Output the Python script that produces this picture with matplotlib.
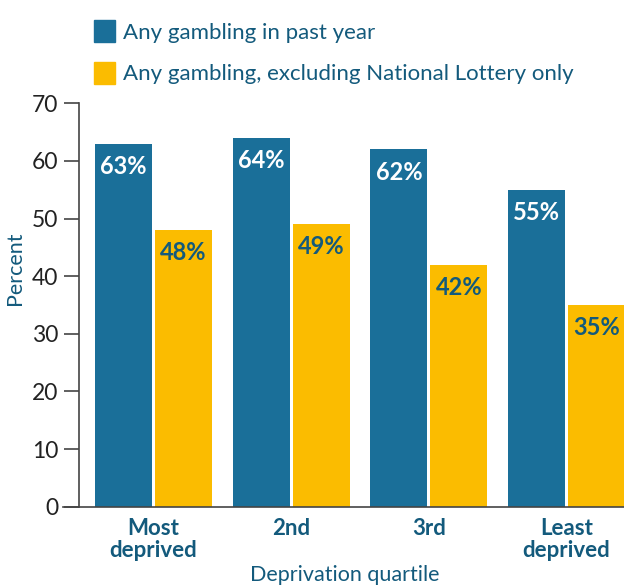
import matplotlib
matplotlib.use("Agg")
import matplotlib.pyplot as plt
import numpy as np
from matplotlib.patches import Patch

categories = ["Most\ndeprived", "2nd", "3rd", "Least\ndeprived"]
any_gambling = [63, 64, 62, 55]
excl_lottery = [48, 49, 42, 35]
series_names = ["Any gambling in past year",
                "Any gambling, excluding National Lottery only"]
yticks = [0, 10, 20, 30, 40, 50, 60, 70]

BLUE = "#1a6f99"
YELLOW = "#fbbc00"
TEAL = "#135a7c"
DARK = "#222222"

plt.rcParams['font.family'] = ['Lato', 'DejaVu Sans']

W, H = 624, 586
fig = plt.figure(figsize=(W / 100, H / 100), dpi=100)
ax = fig.add_axes([79 / W, 1 - 506.7 / H, (W - 79) / W, (506.7 - 103.3) / H])

x = np.arange(len(categories))
bw = 0.414
off = 0.218
b1 = ax.bar(x - off, any_gambling, bw, color=BLUE, zorder=2)
b2 = ax.bar(x + off, excl_lottery, bw, color=YELLOW, zorder=2)

for rect, v in zip(b1, any_gambling):
    ax.annotate(f"{v}%", (rect.get_x() + rect.get_width() / 2, rect.get_height()),
                xytext=(0, -8), textcoords="offset points", ha="center", va="top",
                color="white", fontsize=17, fontweight="bold")
for rect, v in zip(b2, excl_lottery):
    ax.annotate(f"{v}%", (rect.get_x() + rect.get_width() / 2, rect.get_height()),
                xytext=(0, -8), textcoords="offset points", ha="center", va="top",
                color=TEAL, fontsize=17, fontweight="bold")

ax.set_ylim(0, 70)
ax.set_xlim(-0.541, 3.417)
ax.set_yticks(yticks)
ax.set_xticks(x)
ax.set_xticklabels(categories, fontweight="bold", color=TEAL, fontsize=16,
                   linespacing=1.05)
ax.tick_params(axis="x", length=0, pad=8)
ax.tick_params(axis="y", length=11, width=1.2, color="#444444", labelsize=16.5,
               labelcolor=DARK, pad=4)
for s in ["top", "right"]:
    ax.spines[s].set_visible(False)
ax.spines["left"].set_color("#444444")
ax.spines["left"].set_linewidth(1.2)
ax.spines["bottom"].set_color("#444444")
ax.spines["bottom"].set_linewidth(1.2)
ax.spines["bottom"].set_bounds(-0.655, 3.417)

ax.set_ylabel("Percent", color=TEAL, fontsize=15.5, va="center")
ax.yaxis.set_label_coords(-(79 - 15) / (W - 79), (506.7 - 268) / (506.7 - 103.3))
ax.set_xlabel("Deprivation quartile", color=TEAL, fontsize=15.5)
ax.xaxis.set_label_coords((344.6 - 79) / (W - 79), -(575 - 506.7) / (506.7 - 103.3))
ax.xaxis.label.set_va("center")

handles = [Patch(color=BLUE), Patch(color=YELLOW)]
fig.legend(handles, series_names, loc="upper left",
           bbox_to_anchor=(94 / W, 1 - 20 / H), frameon=False, fontsize=16,
           labelcolor=TEAL, borderpad=0, handlelength=0.95, handleheight=1.18,
           handletextpad=0.35, labelspacing=0.85, borderaxespad=0)

fig.savefig("out.png", dpi=100)
